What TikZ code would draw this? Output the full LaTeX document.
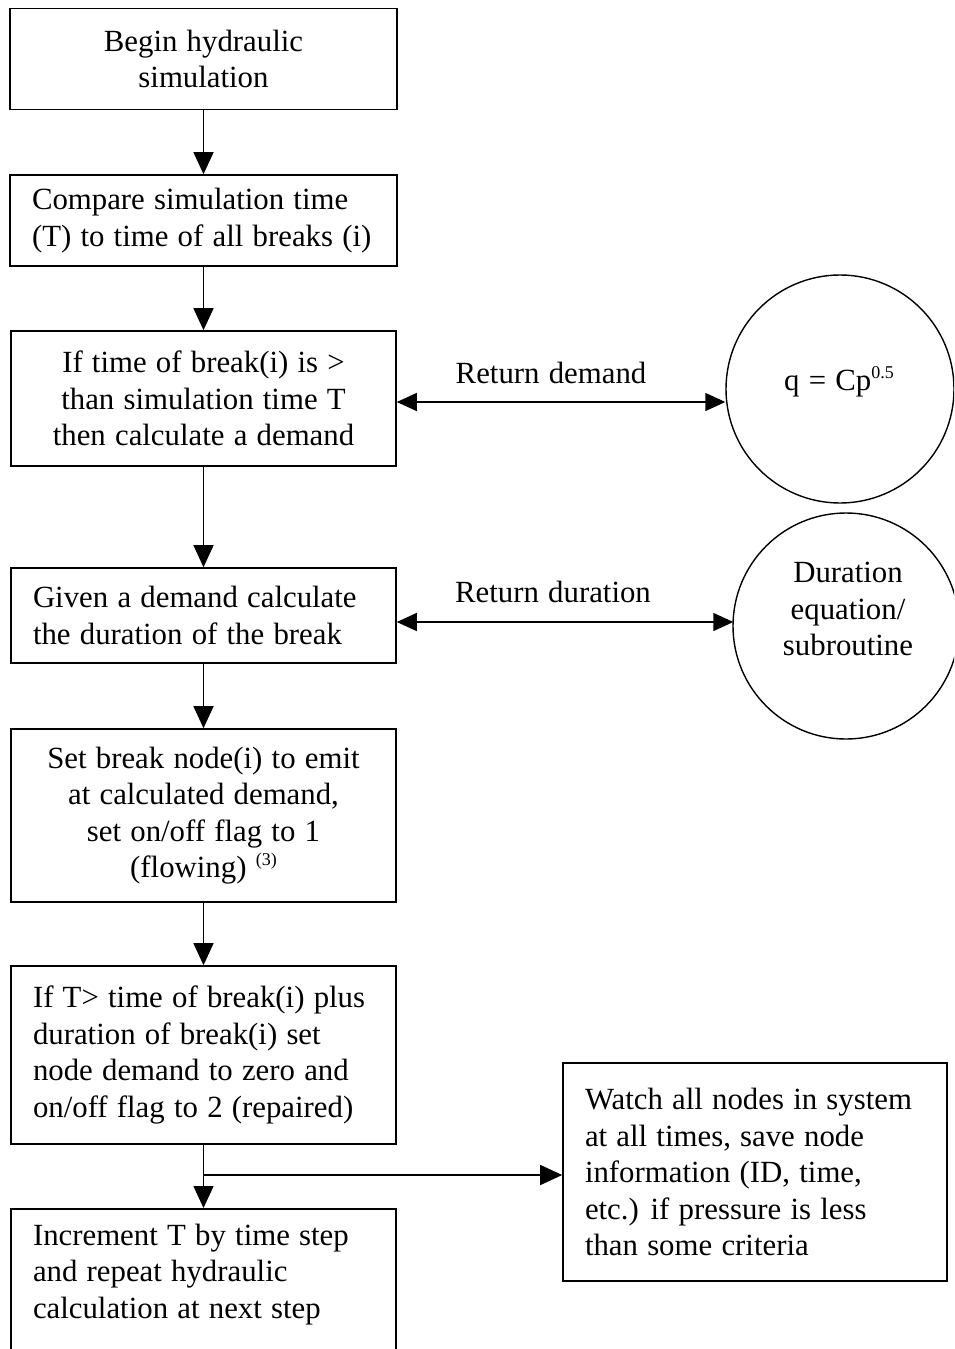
\documentclass[tikz,border=0pt]{standalone}
\usepackage{fontspec}
\setmainfont{Liberation Serif}[WordSpace=1.2]
\usetikzlibrary{arrows.meta}

\tikzset{
  stepbox/.style={draw, line width=1.6pt, inner xsep=22pt, inner ysep=0pt},
  flow/.style={line width=1.4pt, -{Triangle[length=22pt,width=20pt]}},
  both/.style={line width=1.4pt, {Triangle[length=20pt,width=18pt]}-{Triangle[length=20pt,width=18pt]}},
  bubble/.style={draw, circle, line width=1.4pt, inner sep=0pt},
  plain/.style={inner sep=0pt, align=flush center}
}
\newcommand{\supnote}[1]{\raisebox{12pt}{\fontsize{18}{18}\selectfont #1}}

\begin{document}
\begin{tikzpicture}[x=1pt, y=-1pt, font=\fontsize{30.8}{36.5}\selectfont]
\useasboundingbox (0,0) rectangle (954,1349);
\clip (0,0) rectangle (954,1349);

% main column of steps
\node[stepbox, minimum width=387pt, minimum height=101pt, text width=343pt, align=flush center]
  (b1) at (203.5,59) {Begin hydraulic\\simulation};
\node[stepbox, minimum width=387pt, minimum height=91pt, text width=343pt, align=flush left]
  (b2) at (203.5,220.5) {Compare simulation time\\(T) to time of all breaks (i)};
\node[stepbox, minimum width=385pt, minimum height=135pt, text width=341pt, align=flush center]
  (b3) at (203.5,398.5) {If time of break(i) is {>}\\than simulation time T\\then calculate a demand};
\node[stepbox, minimum width=385pt, minimum height=95pt, text width=341pt, align=flush left]
  (b4) at (203.5,615.5) {Given a demand calculate\\the duration of the break};
\node[stepbox, minimum width=385pt, minimum height=173pt, text width=341pt, align=flush center]
  (b5) at (203.5,815.5) {Set break node(i) to emit\\at calculated demand,\\set on/off flag to 1\\(flowing) \supnote{(3)}};
\node[stepbox, minimum width=385pt, minimum height=178pt, text width=341pt, align=flush left]
  (b6) at (203.5,1055) {If T{>} time of break(i) plus\\duration of break(i) set\\node demand to zero and\\on/off flag to 2 (repaired)};
\node[stepbox, anchor=north, minimum width=385pt, inner ysep=15pt]
  (b7) at (203.5,1208) {\begin{minipage}[t][160pt][t]{341pt}\raggedright
    Increment T by time step\\and repeat hydraulic\\calculation at next step\end{minipage}};

% side box
\node[stepbox, minimum width=384pt, minimum height=218pt, text width=340pt, align=flush left]
  (b8) at (755,1172) {Watch all nodes in system\\at all times, save node\\information (ID, time,\\etc.) if pressure is less\\than some criteria};

% side routines
\node[bubble, minimum size=228pt] (c1) at (840,389) {};
\node[plain] (c1t) at (839,382) {q = Cp\supnote{0.5}};
\node[bubble, minimum size=226pt] (c2) at (846,626) {};
\node[plain] (c2t) at (848,609) {Duration\\equation/\\subroutine};

% labels on the two-way links
\node[plain] (l1) at (551,373) {Return demand};
\node[plain] (l2) at (553,592) {Return duration};

% flow down the column
\draw[flow] (b1) -- (b2);
\draw[flow] (b2) -- (b3);
\draw[flow] (b3) -- (b4);
\draw[flow] (b4) -- (b5);
\draw[flow] (b5) -- (b6);
\draw[flow] (b6) -- (b7);

% branch to the monitoring box
\coordinate (fork) at (203.5,1175);
\draw[flow] (fork) -- (fork -| b8.west);

% two-way exchanges with the routines
\coordinate (d1) at ([yshift=-3.5pt]b3.east);
\draw[both] (d1) -- (d1 -| c1.west);
\coordinate (d2) at ([yshift=-6.5pt]b4.east);
\draw[both] (d2) -- ([xshift=1pt]d2 -| c2.west);
\end{tikzpicture}
\end{document}
